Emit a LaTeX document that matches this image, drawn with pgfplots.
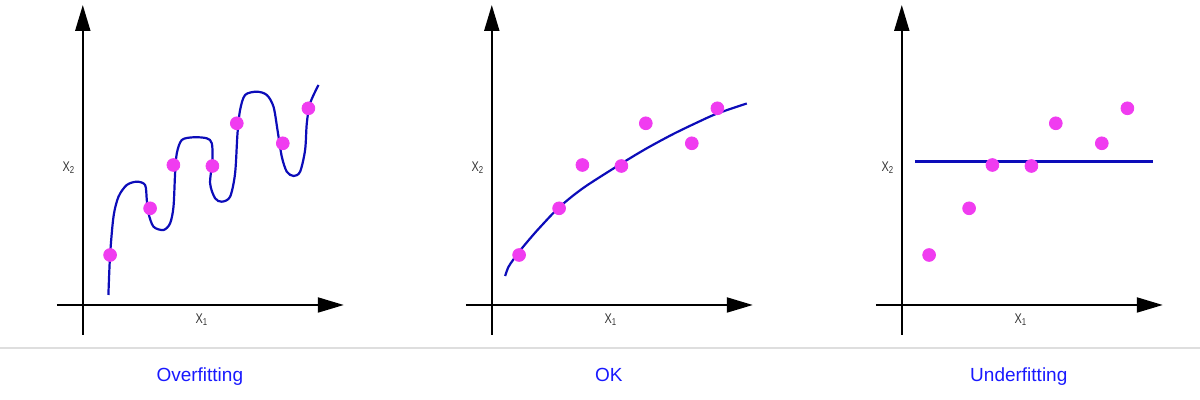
\documentclass[border=0pt]{standalone}
\usepackage{pgfplots}
\pgfplotsset{compat=1.18}
\usetikzlibrary{arrows.meta}
\usepackage{fontspec}
\setmainfont{Liberation Sans}
\definecolor{ptc}{RGB}{240,60,240}
\definecolor{cvc}{RGB}{12,12,185}
\definecolor{tbc}{RGB}{25,25,255}

\pgfplotsset{fitpanel/.style={
  x=0.5pt, y=0.5pt, xmin=-26, xmax=261, ymin=-30, ymax=300,
  axis lines=middle, xtick=\empty, ytick=\empty,
  axis line style={line width=1pt, black, -{Triangle[length=13pt,width=7.5pt]}},
  xlabel={\scalebox{0.78}[1]{X\textsubscript{1}}},
  ylabel={\scalebox{0.78}[1]{X\textsubscript{2}}},
  xlabel style={at={(axis cs:119,-15)}, anchor=center, font=\fontsize{7}{8}\selectfont, text=black!80},
  ylabel style={at={(axis cs:-14,137)}, anchor=center, rotate=0, font=\fontsize{7}{8}\selectfont, text=black!80},
  every axis title shift=0pt,
  title style={at={(axis cs:117,-76.7)}, anchor=base, font=\fontsize{9.5}{11}\selectfont, text=tbc},
  clip=false,
  anchor=origin,
}}

\pgfplotstableread{
x y
27.3 50
67.3 96.7
90.6 140
129.6 139
154 181.7
200 161.7
225.6 196.7
}\points

\begin{document}
\begin{tikzpicture}
\useasboundingbox (0,0) rectangle (600pt,200pt);
\draw[black!13, line width=0.8pt] (0,26pt) -- (600pt,26pt);

% Overfitting
\begin{axis}[fitpanel, at={(41.4pt,47.5pt)}, title={Overfitting}]
\addplot[cvc, line width=1.1pt, smooth, tension=0.5] coordinates {
(25.6,10) (27.3,50) (30.7,88.3) (35.7,108.3) (44,120) (54,123.3) (62.3,120)
(64,105) (65.7,91.7) (70.7,78.3) (80.7,75) (87.3,81.7) (90.7,98.3) (92.3,131.7)
(94,151.7) (99,165) (110.7,167.7) (124,166.7) (129,161.7) (129.7,145) (127.3,121.7)
(132.3,106.7) (139,103.3) (147.3,108.3) (152.3,131.7) (154.7,171.7) (157.3,195)
(162.3,210) (174,213.3) (184,210) (190.7,198.3) (194.7,175) (199,148.3) (204,133.3)
(210.7,129) (217.3,133.3) (222.3,155) (224,181.7) (227.3,201.7) (235.7,220)
};
\addplot[only marks, mark=*, mark size=3.2pt, mark options={fill=ptc, draw=ptc}] table {\points};
\end{axis}

% OK
\begin{axis}[fitpanel, at={(245.9pt,47.5pt)}, title={OK}]
\addplot[cvc, line width=1.1pt, smooth] coordinates {
(13.3,29) (16.6,38) (21.6,45.5) (28.3,54.5) (38.3,66.5) (48.3,77.8) (67.3,97.6)
(91.7,117.2) (130,141.7) (155,156.7) (181.7,171.1) (208.3,183.9) (226,191.7) (255,201.5)
};
\addplot[only marks, mark=*, mark size=3.2pt, mark options={fill=ptc, draw=ptc}] table {\points};
\end{axis}

% Underfitting
\begin{axis}[fitpanel, at={(450.9pt,47.5pt)}, title={Underfitting}]
\addplot[cvc, line width=1.6pt] coordinates {(13.3,143.3) (250.7,143.3)};
\addplot[only marks, mark=*, mark size=3.2pt, mark options={fill=ptc, draw=ptc}] table {\points};
\end{axis}
\end{tikzpicture}
\end{document}
